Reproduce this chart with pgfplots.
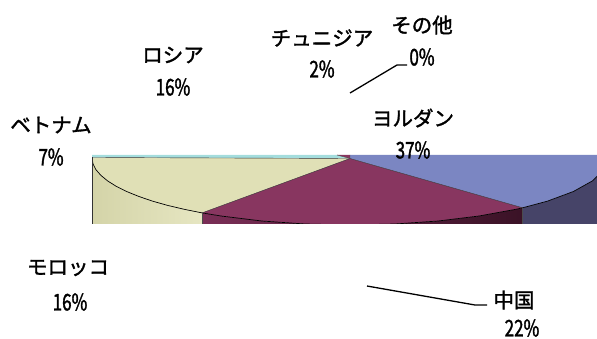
\documentclass[border=0pt]{standalone}
\usepackage{pgfplots}
\pgfplotsset{compat=1.18}
\usepackage{fontspec}
\setmainfont{Noto Sans CJK JP}[FakeBold=1.6]
\newfontfamily\numfont[FakeStretch=0.74,FakeBold=1.4]{Noto Sans CJK JP}
\definecolor{ytop}{RGB}{224,224,182}
\definecolor{yside1}{RGB}{212,212,168}
\definecolor{yside2}{RGB}{230,230,194}
\definecolor{mtop}{RGB}{136,54,96}
\definecolor{mside1}{RGB}{122,46,86}
\definecolor{mside2}{RGB}{58,18,38}
\definecolor{btop}{RGB}{123,134,194}
\definecolor{bside}{RGB}{70,68,104}
\definecolor{ctop}{RGB}{164,221,221}
\newcommand{\lab}[1]{{\fontsize{20.5}{23}\selectfont #1}}
\newcommand{\pct}[1]{{\numfont\fontsize{23}{26}\selectfont #1}}
\begin{document}
\begin{tikzpicture}
% pie (clipped region)
\begin{axis}[at={(92pt,114.5pt)},anchor=south west,width=505pt,height=68.5pt,
  scale only axis,xmin=92,xmax=597,ymin=155,ymax=223.5,y dir=reverse,
  axis lines=none,ticks=none,clip=true]
% side faces
\addplot[draw=none,left color=yside1,right color=yside2] coordinates {
 (92,158)(93.0,163.8)(95.9,169.6)(100.8,175.3)(107.6,180.9)(116.2,186.3)(126.6,191.5)
 (138.7,196.4)(152.4,201.1)(167.6,205.4)(184.2,209.3)(202,212.9)(202,240)(92,240)} -- cycle;
\addplot[draw=none,left color=mside1,right color=mside2] coordinates {
 (202,212.9)(221,216)(261.8,221)(305.2,224)(350,225)(394.8,224)(438.2,221)(479,216)
 (515.8,209.3)(522.6,207.8)(522.6,240)(202,240)} -- cycle;
\addplot[draw=none,fill=bside] coordinates {
 (522.6,207.8)(547.6,201.1)(573.4,191.5)(592.4,180.9)(604.1,169.6)(608,158)(608,240)(522.6,240)} -- cycle;
% top faces
\addplot[draw=none,fill=ctop] coordinates {(92,155)(337,155)(350,158.5)(92,157.5)} -- cycle;
\addplot[draw=none,fill=mtop] coordinates {(337,155)(350,155)(350,158.5)} -- cycle;
\addplot[draw=none,fill=btop] coordinates {
 (350,158.5)(350,155)(608,155)(608,158)(604.1,169.6)(592.4,180.9)(573.4,191.5)(547.6,201.1)(522.6,207.8)} -- cycle;
\addplot[draw=none,fill=ytop] coordinates {
 (350,158.5)(202,212.9)(184.2,209.3)(167.6,205.4)(152.4,201.1)(138.7,196.4)(126.6,191.5)
 (116.2,186.3)(107.6,180.9)(100.8,175.3)(95.9,169.6)(93.0,163.8)(92,158)(92,157.5)} -- cycle;
\addplot[draw=none,fill=mtop] coordinates {
 (350,158.5)(202,212.9)(221,216)(261.8,221)(305.2,224)(350,225)(394.8,224)(438.2,221)(479,216)
 (515.8,209.3)(522.6,207.8)} -- cycle;
% edges
\addplot[black,line width=0.7pt] coordinates {
 (92,158)(93.0,163.8)(95.9,169.6)(100.8,175.3)(107.6,180.9)(116.2,186.3)(126.6,191.5)
 (138.7,196.4)(152.4,201.1)(167.6,205.4)(184.2,209.3)(202,212.9)(221,216)(261.8,221)(305.2,224)
 (350,225)(394.8,224)(438.2,221)(479,216)(515.8,209.3)(522.6,207.8)(547.6,201.1)(573.4,191.5)
 (592.4,180.9)(604.1,169.6)(608,158)};
\addplot[black!80,line width=0.4pt] coordinates {(202,212.9)(350,158.5)(522.6,207.8)};
\addplot[black!80,line width=0.4pt] coordinates {(92,157.5)(350,158.5)};
\addplot[black!70,line width=0.4pt] coordinates {(337,155)(350,158.5)(350,155)};
\addplot[black!70,line width=0.4pt] coordinates {(202,212.9)(202,230)};
\addplot[black!70,line width=0.4pt] coordinates {(522.6,207.8)(522.6,230)};
\addplot[black!80,line width=0.6pt] coordinates {(92.3,157.5)(92.3,230)};
\end{axis}
% labels
\begin{axis}[width=597pt,height=338pt,scale only axis,xmin=0,xmax=597,ymin=0,ymax=338,
  y dir=reverse,axis lines=none,ticks=none,clip=false]
\addplot[black,line width=1.3pt] coordinates {(350,93)(397,65)(407,65)};
\addplot[black,line width=1.3pt] coordinates {(367,286)(475,305)(487,305)};
\node at (axis cs:173,55) {\lab{ロシア}};
\node at (axis cs:173,87) {\pct{16\%}};
\node at (axis cs:322,38) {\lab{チュニジア}};
\node at (axis cs:322,69) {\pct{2\%}};
\node at (axis cs:422,25) {\lab{その他}};
\node at (axis cs:422,57) {\pct{0\%}};
\node at (axis cs:413,118) {\lab{ヨルダン}};
\node at (axis cs:413,150) {\pct{37\%}};
\node at (axis cs:51,125) {\lab{ベトナム}};
\node at (axis cs:51,157) {\pct{7\%}};
\node at (axis cs:68,268) {\lab{モロッコ}};
\node at (axis cs:70,302) {\pct{16\%}};
\node at (axis cs:514,300) {\lab{中国}};
\node at (axis cs:522,328) {\pct{22\%}};
\end{axis}
\pgfresetboundingbox
\useasboundingbox (0,0) rectangle (597pt,338pt);
\end{tikzpicture}
\end{document}
